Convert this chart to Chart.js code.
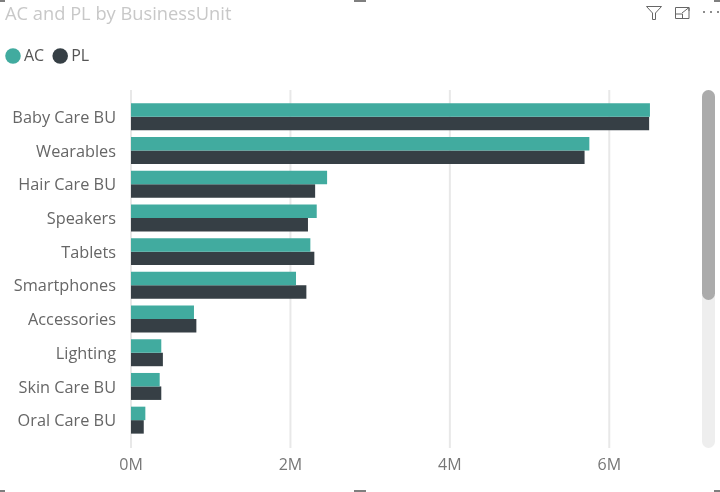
<!DOCTYPE html>
<html>
<head>
<meta charset="utf-8">
<title>AC and PL by BusinessUnit</title>
<script src="https://cdn.jsdelivr.net/npm/chart.js@4"></script>
<style>
    html, body { margin: 0; background: #fff; overflow: hidden; }
    #wrap { position: relative; width: 720px; height: 492px; }
    #scrollTrack { position: absolute; left: 702px; top: 90px; width: 13px; height: 358px; border-radius: 7px; background: #eeeeee; }
    #scrollThumb { position: absolute; left: 702px; top: 90px; width: 13px; height: 210px; border-radius: 7px; background: #ababab; }
    .mark { position: absolute; background: #7f7f7f; }
    #icons { position: absolute; left: 640px; top: 0; }
</style>
</head>
<body>
<div id="wrap">
    <canvas id="barChart" width="720" height="492"></canvas>
    <div id="scrollTrack"></div>
    <div id="scrollThumb"></div>
    <div class="mark" style="left:0;top:0;width:5px;height:2px"></div>
    <div class="mark" style="left:354px;top:0;width:12px;height:2px"></div>
    <div class="mark" style="left:714px;top:0;width:6px;height:2px"></div>
    <div class="mark" style="left:0;top:490px;width:5px;height:2px"></div>
    <div class="mark" style="left:354px;top:490px;width:12px;height:2px"></div>
    <div class="mark" style="left:714px;top:490px;width:6px;height:2px"></div>
    <svg id="icons" width="80" height="24" fill="none" stroke="#666" stroke-width="1">
        <path d="M6.5 6.5 H21.5 L15.5 13 V19.5 H12.5 V13 Z"/>
        <path d="M35.5 14 V7.5 H49 M43 7.5 M49 7.5 V18.5 H35.5 V14 H42.5 V18.5 M42 13 L49 7.5 M45 7.5 H49 V11"/>
        <circle cx="64" cy="12" r="1" fill="#666" stroke="none"/>
        <circle cx="71" cy="12" r="1" fill="#666" stroke="none"/>
        <circle cx="78" cy="12" r="1" fill="#666" stroke="none"/>
    </svg>
</div>
<script>
const businessUnits = ['Baby Care BU', 'Wearables', 'Hair Care BU', 'Speakers', 'Tablets', 'Smartphones', 'Accessories', 'Lighting', 'Skin Care BU', 'Oral Care BU'];
const acValues = [6510000, 5750000, 2460000, 2330000, 2250000, 2070000, 790000, 380000, 360000, 180000];
const plValues = [6500000, 5690000, 2310000, 2220000, 2300000, 2200000, 820000, 400000, 380000, 160000];
const xTickValues = [0, 2000000, 4000000, 6000000];
const axisMax = 7000000;

const labelFont = "'Open Sans', sans-serif";

// gridlines run past the category bands, so draw them here from the x scale
const longGridLines = {
    id: 'longGridLines',
    beforeDatasetsDraw(chart) {
        const { ctx, scales: { x } } = chart;
        ctx.save();
        ctx.strokeStyle = '#e8e8e8';
        ctx.lineWidth = 2;
        x.ticks.forEach(tick => {
            const px = x.getPixelForValue(tick.value);
            ctx.beginPath();
            ctx.moveTo(px, 90);
            ctx.lineTo(px, 448);
            ctx.stroke();
        });
        ctx.restore();
    }
};

// fixed legend height so the plot starts where it should, and legend pulled back to the left edge
const legendPlacement = {
    id: 'legendPlacement',
    beforeInit(chart) {
        const fit = chart.legend.fit;
        chart.legend.fit = function() {
            fit.call(this);
            this.height = 65;
        };
    },
    beforeDraw(chart) {
        chart.legend.left = -3;
    }
};

new Chart(document.getElementById('barChart').getContext('2d'), {
    type: 'bar',
    data: {
        labels: businessUnits,
        datasets: [
            { label: 'AC', data: acValues, backgroundColor: '#41ab9f' },
            { label: 'PL', data: plValues, backgroundColor: '#363f45' }
        ]
    },
    plugins: [longGridLines, legendPlacement],
    options: {
        indexAxis: 'y',
        responsive: false,
        animation: false,
        devicePixelRatio: 1,
        categoryPercentage: 0.8,
        barPercentage: 1,
        layout: { padding: { left: 5, right: 31, top: 0, bottom: 0 } },
        scales: {
            x: {
                min: 0,
                max: axisMax,
                grid: { display: false },
                border: { display: false },
                afterFit(scale) { scale.height = 55; },
                afterBuildTicks(scale) { scale.ticks = xTickValues.map(value => ({ value })); },
                ticks: {
                    maxRotation: 0,
                    padding: 11,
                    color: '#777777',
                    font: { family: labelFont, size: 16 },
                    callback: value => (value / 1000000) + 'M'
                }
            },
            y: {
                grid: { display: false },
                border: { display: false },
                afterFit(scale) { scale.width = 126; },
                ticks: {
                    autoSkip: false,
                    padding: 7,
                    labelOffset: 1.5,
                    color: '#666666',
                    font: { family: labelFont, size: 16.3 }
                }
            }
        },
        plugins: {
            title: {
                display: true,
                text: 'AC and PL by BusinessUnit',
                align: 'start',
                color: '#c8c8c8',
                font: { family: labelFont, size: 18.3, weight: 'normal' },
                padding: { top: 4, bottom: 9 }
            },
            legend: {
                position: 'top',
                align: 'start',
                labels: {
                    usePointStyle: true,
                    pointStyle: 'circle',
                    boxWidth: 6,
                    boxHeight: 11,
                    color: '#555555',
                    font: { family: labelFont, size: 16 },
                    padding: 13
                }
            },
            tooltip: { enabled: false }
        }
    }
});
</script>
</body>
</html>
